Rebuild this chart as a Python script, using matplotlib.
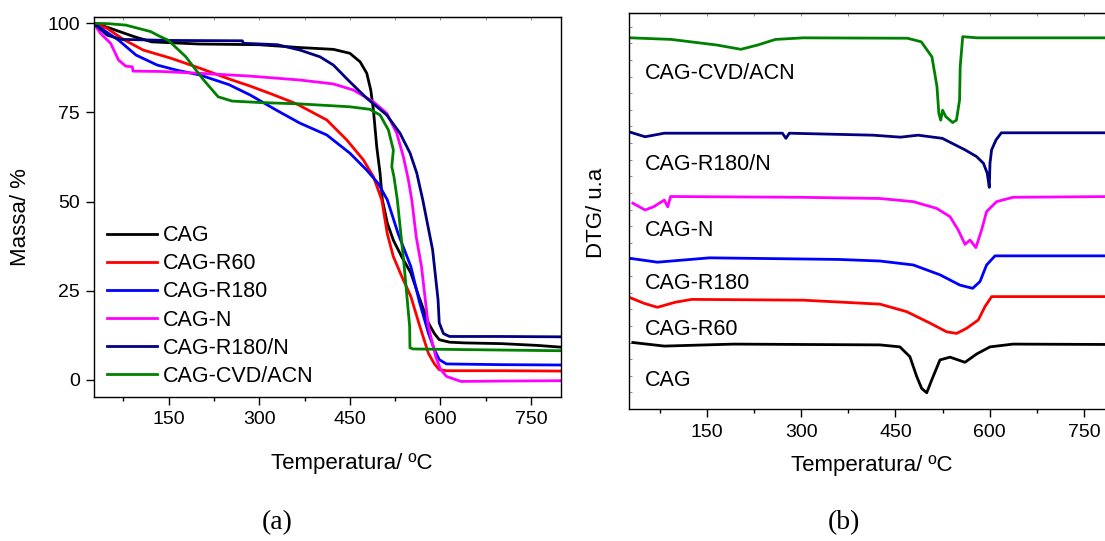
import matplotlib
matplotlib.use("Agg")
import matplotlib.pyplot as plt
from matplotlib.ticker import MultipleLocator

plt.rcParams['font.family'] = ['Liberation Sans', 'DejaVu Sans']

names = ["CAG", "CAG-R60", "CAG-R180", "CAG-N", "CAG-R180/N", "CAG-CVD/ACN"]
colors = ["black", "#ff0000", "#0000ff", "#ff00ff", "#000080", "#008000"]

# TGA: temperature (C) and remaining mass (%)
tga_t_cag = [26, 50, 94, 122, 200, 300, 367.5, 422.7, 450, 467, 478, 484.6, 489, 494.5,
             500, 503.8, 512, 522, 536, 551, 565, 580, 590, 598, 615, 640, 700, 760, 800]
tga_m_cag = [100, 98.8, 96.2, 94.8, 94.2, 94.0, 93.2, 92.7, 91.6, 89.2, 86, 81.3, 75.7,
             65.4, 58, 50.5, 44, 39.2, 34.5, 30, 23, 16, 13, 11.3, 10.6, 10.4, 10.2, 9.7, 9.2]

tga_t_r60 = [26, 48, 75, 108, 154, 202, 250, 285, 320, 362, 411.8, 444.9, 472.4, 489,
             502.8, 512, 522, 536, 551, 565, 580, 590, 598, 610, 700, 800]
tga_m_r60 = [100, 98.6, 95.5, 92.5, 90.2, 87.4, 84.4, 82.4, 80.2, 77.4, 72.9, 67.3, 61.7,
             57, 50.5, 41, 34.6, 29, 23.4, 15.5, 7.5, 4.5, 2.9, 2.6, 2.6, 2.5]

tga_t_r180 = [26, 45, 67, 96, 131, 165, 202, 250, 285, 330, 367.5, 411.8, 450, 477.6, 497,
              512, 530, 551, 565, 580, 590, 598, 610, 700, 800]
tga_m_r180 = [100, 97.8, 95.3, 91.1, 88.3, 86.8, 85.5, 82.8, 79.9, 75.5, 72, 68.7, 63.6,
              58.9, 55.1, 50.5, 41, 31.8, 22, 13.2, 8.5, 5.7, 4.5, 4.3, 4.2]

tga_t_n = [26, 37, 54, 67, 79, 90, 91, 137, 200, 285, 367.5, 422.7, 455.8, 489, 511,
           527.6, 538.6, 546.9, 552.5, 560, 568.6, 580, 592, 600, 610, 634, 700, 800]
tga_m_n = [100, 97.2, 94.4, 89.7, 88, 87.8, 86.6, 86.5, 86, 85.2, 84.1, 83, 81.3, 78,
           74.8, 69.2, 62.6, 56.1, 50.5, 40, 31.8, 15, 6.6, 3, 1, -0.4, -0.3, -0.2]

tga_t_r180n = [26, 48, 71, 150, 272, 274, 330, 367.5, 400.7, 422.7, 450, 478, 511, 533,
               549.7, 560.8, 570.7, 587, 596, 598, 605, 615, 700, 800]
tga_m_r180n = [100, 96.7, 95.5, 95.2, 95.1, 94.4, 94.0, 92.5, 90.6, 88.3, 83.6, 79, 74.3,
               69.2, 63.6, 58, 50.5, 36.5, 22.5, 16, 13, 12.2, 12.2, 12.1]

tga_t_cvd = [26, 50, 79, 120, 137, 149, 178, 208, 232, 255, 300, 367.5, 450, 483, 500,
             513.8, 522, 519.4, 523, 528.6, 540, 549, 549.5, 555, 650, 800]
tga_m_cvd = [100, 99.9, 99.5, 97.7, 96.2, 95.3, 90.7, 84.1, 79.4, 78.2, 77.8, 77.4, 76.6,
             75.9, 74.3, 70.1, 64.5, 59.8, 57, 50.5, 31.8, 15, 9, 8.7, 8.5, 8.2]

# DTG curves, stacked with an offset (arbitrary units)
dtg_t_cag = [32, 82, 192.6, 425.3, 457, 473, 483.8, 491.7, 499.7, 507.6, 520.8, 536.8,
             560.6, 579.2, 600.4, 637, 800]
dtg_v_cag = [16.8, 15.9, 16.4, 16.2, 15.7, 13.2, 8.2, 5.2, 4.1, 7.3, 12.4, 13.1, 11.8,
             13.9, 15.7, 16.4, 16.3]

dtg_t_r60 = [26.6, 50, 71, 100, 126, 303, 425.3, 467.8, 505, 531.5, 547.4, 563.3, 581.8,
             592.5, 603, 800]
dtg_v_r60 = [28.2, 26.7, 25.7, 27.0, 27.7, 27.5, 26.5, 24.6, 21.7, 19.5, 19.1, 20.4, 22.5,
             25.9, 28.4, 28.4]

dtg_t_r180 = [26.6, 71, 154, 358.6, 425.3, 478.4, 521, 552.7, 572.9, 584.5, 595, 608.4, 800]
dtg_v_r180 = [38.1, 37.1, 38.2, 37.8, 37.4, 36.4, 33.9, 31.3, 30.5, 32.2, 36.4, 38.7, 38.7]

dtg_t_n = [32, 51.5, 65, 82, 87.5, 92, 300, 425.3, 478.4, 515.6, 536.8, 550, 560.6, 568.6,
           578, 587, 595, 611, 637, 800]
dtg_v_n = [52, 50.3, 51.1, 52.8, 51.1, 53.7, 53.5, 53.2, 52.4, 50.7, 48.6, 45.2, 41.6, 42.7,
           40.8, 45.2, 49.9, 52.4, 53.5, 53.7]

dtg_t_r180n = [29, 51.5, 82, 270, 275.6, 281, 414, 458, 486, 524.5, 560.6, 579, 590, 596,
               599.3, 600.4, 603, 610, 618.5, 800]
dtg_v_r180n = [69.9, 68.8, 69.7, 69.7, 68.4, 69.7, 69.2, 68.7, 69.2, 68.4, 65.5, 63.8, 62.1,
               59.6, 56, 62.1, 65.5, 68, 69.8, 69.8]

dtg_t_cvd = [29, 93, 165, 204, 231, 259, 303, 469, 491, 508, 516, 519, 522, 525, 530, 541,
             547, 552, 553, 557, 580, 800]
dtg_v_cvd = [93.8, 93.4, 92.0, 90.9, 92.0, 93.4, 93.8, 93.7, 92.8, 89.0, 81.5, 74.7, 73.0,
             75.5, 73.9, 72.4, 73.0, 78.1, 86.5, 94.1, 93.8, 93.8]

# where each DTG curve is named
dtg_label_t = 51
dtg_label_v = [7.3, 20, 31.8, 45.2, 61.7, 84.9]

tga_t = [tga_t_cag, tga_t_r60, tga_t_r180, tga_t_n, tga_t_r180n, tga_t_cvd]
tga_m = [tga_m_cag, tga_m_r60, tga_m_r180, tga_m_n, tga_m_r180n, tga_m_cvd]
dtg_t = [dtg_t_cag, dtg_t_r60, dtg_t_r180, dtg_t_n, dtg_t_r180n, dtg_t_cvd]
dtg_v = [dtg_v_cag, dtg_v_r60, dtg_v_r180, dtg_v_n, dtg_v_r180n, dtg_v_cvd]

fig = plt.figure(figsize=(11.05, 5.41), dpi=100)

# (a) TGA
ax1 = fig.add_axes([0.0847, 0.2653, 0.4227, 0.7038])
for t, m, c, n in zip(tga_t, tga_m, colors, names):
    ax1.plot(t, m, color=c, lw=2.0, label=n)
ax1.set_xlim(25.8, 799)
ax1.set_ylim(-4.9, 101.85)
ax1.set_xticks([150, 300, 450, 600, 750])
ax1.xaxis.set_minor_locator(MultipleLocator(75))
ax1.set_yticks([0, 25, 50, 75, 100])
ax1.tick_params(axis='both', which='major', direction='out', length=6, width=1,
                labelsize=14, pad=4)
ax1.tick_params(axis='x', which='minor', direction='out', length=3, width=1)
ax1.legend(loc='center left', bbox_to_anchor=(107 / 1105, 1 - 306 / 541),
           bbox_transform=fig.transFigure, frameon=False, fontsize=15.5,
           handlelength=2.3, handletextpad=0.3, labelspacing=0.33,
           borderpad=0, borderaxespad=0)

# (b) DTG, right edge runs past the figure border
ax2 = fig.add_axes([0.5692, 0.244, 0.4402, 0.7314])
for t, v, c in zip(dtg_t, dtg_v, colors):
    ax2.plot(t, v, color=c, lw=2.0)
for n, v in zip(names, dtg_label_v):
    ax2.text(dtg_label_t, v, n, fontsize=15.5, ha='left', va='center')
ax2.set_xlim(25.8, 800)
ax2.set_ylim(0, 100)
ax2.set_xticks([150, 300, 450, 600, 750])
ax2.xaxis.set_minor_locator(MultipleLocator(75))
ax2.yaxis.set_major_locator(MultipleLocator(4.2))
ax2.tick_params(axis='x', which='major', direction='out', length=6, width=1,
                labelsize=14, pad=5)
ax2.tick_params(axis='x', which='minor', direction='out', length=3, width=1)
ax2.tick_params(axis='y', which='major', direction='in', length=2.5, width=0.6,
                color='#777777', labelleft=False)

for ax in (ax1, ax2):
    for s in ax.spines.values():
        s.set_linewidth(1.0)
    top = ax.secondary_xaxis('top')
    top.set_xticks([75, 150, 225, 300, 375, 450, 525, 600, 675, 750])
    top.tick_params(direction='in', length=2.5, width=0.6, color='#777777',
                    labeltop=False)

fig.text(352 / 1105, 1 - 463 / 541, "Temperatura/ ºC", fontsize=16,
         ha='center', va='center')
fig.text(872 / 1105, 1 - 465 / 541, "Temperatura/ ºC", fontsize=16,
         ha='center', va='center')
fig.text(21 / 1105, 1 - 217 / 541, "Massa/ %", fontsize=16, rotation=90,
         ha='center', va='center')
fig.text(596 / 1105, 1 - 213 / 541, "DTG/ u.a", fontsize=16, rotation=90,
         ha='center', va='center')
fig.text(277 / 1105, 1 - 523 / 541, "(a)", fontsize=20,
         family=['Liberation Serif', 'DejaVu Serif'], ha='center', va='center')
fig.text(844 / 1105, 1 - 523 / 541, "(b)", fontsize=20,
         family=['Liberation Serif', 'DejaVu Serif'], ha='center', va='center')

fig.savefig("out.png", dpi=100)
